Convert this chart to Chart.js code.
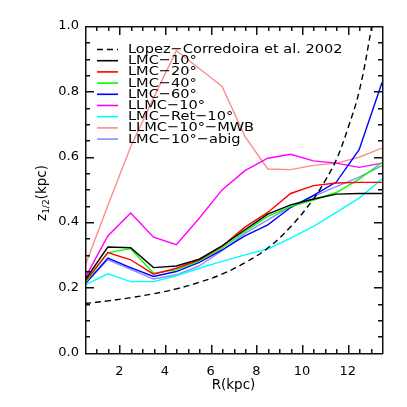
<!DOCTYPE html>
<html>
<head>
<meta charset="utf-8">
<script src="https://cdn.jsdelivr.net/npm/chart.js@4"></script>
<style>
html, body { margin: 0; padding: 0; background: #fff; }
</style>
</head>
<body>
<canvas id="zHalf" width="407" height="407"></canvas>
<script>
// radii of the simulation profiles (kpc)
var radius = [0.5, 1.5, 2.5, 3.5, 4.5, 5.5, 6.5, 7.5, 8.5, 9.5, 10.5, 11.5, 12.5, 13.5];

// scale heights z_1/2 (kpc)
var lmc10    = [0.222, 0.323, 0.321, 0.260, 0.265, 0.286, 0.327, 0.376, 0.424, 0.452, 0.470, 0.485, 0.487, 0.487];
var lmc20    = [0.217, 0.306, 0.284, 0.240, 0.258, 0.284, 0.325, 0.384, 0.429, 0.487, 0.511, 0.519, 0.521, 0.521];
var lmc40    = [0.212, 0.306, 0.318, 0.243, 0.253, 0.281, 0.320, 0.371, 0.417, 0.447, 0.467, 0.490, 0.531, 0.582];
var lmc60    = [0.210, 0.289, 0.260, 0.233, 0.248, 0.276, 0.314, 0.357, 0.391, 0.444, 0.481, 0.522, 0.621, 0.827];
var llmc10   = [0.228, 0.357, 0.427, 0.353, 0.330, 0.411, 0.498, 0.557, 0.595, 0.607, 0.587, 0.580, 0.567, 0.580];
var lmcRet10 = [0.207, 0.241, 0.217, 0.217, 0.235, 0.258, 0.279, 0.299, 0.317, 0.350, 0.386, 0.429, 0.473, 0.531];
var llmcMwb  = [0.265, 0.450, 0.630, 0.780, 0.925, 0.870, 0.815, 0.662, 0.562, 0.560, 0.573, 0.580, 0.598, 0.626];
var lmcAbig  = [0.210, 0.284, 0.255, 0.225, 0.238, 0.265, 0.312, 0.365, 0.406, 0.447, 0.478, 0.508, 0.537, 0.572];

// Lopez-Corredoira et al. 2002 curve
var lopezR = [0.5, 1.5, 2.5, 3.5, 4.5, 5.5, 6.5, 7.5, 8.5, 9.5, 10.5, 11.0, 11.5, 12.0, 12.5, 13.0, 13.5];
var lopezZ = [0.150, 0.158, 0.168, 0.180, 0.195, 0.215, 0.240, 0.275, 0.320, 0.385, 0.470, 0.525, 0.590, 0.685, 0.800, 0.980, 1.200];

var xTickLabels = [2, 4, 6, 8, 10, 12];
var yTickLabels = [0, 0.2, 0.4, 0.6, 0.8, 1.0];

// inward tick marks (minor and major)
var xMinorStep = 0.5, xMajorStep = 2;
var yMinorStep = 0.05, yMajorStep = 0.2;

var FONT = "'DejaVu Sans', sans-serif";

function pts(xs, ys) {
    var out = [];
    for (var i = 0; i < xs.length; i++) out.push({x: xs[i], y: ys[i]});
    return out;
}

function series(label, xs, ys, color, width, dash) {
    return {
        label: label,
        data: pts(xs, ys),
        borderColor: color,
        backgroundColor: color,
        borderWidth: width,
        borderDash: dash || [],
        pointRadius: 0,
        tension: dash ? 0.4 : 0,
        fill: false
    };
}

var datasets = [
    series("Lopez\u2212Corredoira et al. 2002", lopezR, lopezZ, "#000000", 1.4, [6, 4]),
    series("LMC\u221210\u00b0", radius, lmc10, "#000000", 1.4),
    series("LMC\u221220\u00b0", radius, lmc20, "#ff0000", 1.4),
    series("LMC\u221240\u00b0", radius, lmc40, "#00ff00", 1.4),
    series("LMC\u221260\u00b0", radius, lmc60, "#0000ff", 1.4),
    series("LLMC\u221210\u00b0", radius, llmc10, "#ff00ff", 1.4),
    series("LMC\u2212Ret\u221210\u00b0", radius, lmcRet10, "#00ffff", 1.4),
    series("LLMC\u221210\u00b0\u2212MWB", radius, llmcMwb, "#ff8c8c", 1.4),
    series("LMC\u221210\u00b0\u2212abig", radius, lmcAbig, "#8c8cff", 1.4)
];

// frame with inward ticks on all four sides
var frameTicks = {
    id: 'frameTicks',
    afterDraw: function(chart) {
        var c = chart.ctx, a = chart.chartArea;
        var xs = chart.scales.x, ys = chart.scales.y;
        var L = Math.round(a.left), R = Math.round(a.right);
        var T = Math.round(a.top), B = Math.round(a.bottom);
        c.save();
        c.fillStyle = '#111';
        c.fillRect(L, T, R - L + 1, 1.5);
        c.fillRect(L, B, R - L + 1, 1.5);
        c.fillRect(L, T, 1.5, B - T + 1);
        c.fillRect(R, T, 1.5, B - T + 1);
        var nx = Math.round((xs.max - xs.min) / xMinorStep);
        for (var i = 1; i < nx; i++) {
            var v = xs.min + i * xMinorStep;
            var px = Math.round(xs.getPixelForValue(v));
            var major = Math.abs(v / xMajorStep - Math.round(v / xMajorStep)) < 1e-6;
            var len = major ? 8 : 4;
            c.fillRect(px, B - len, 1.5, len);
            c.fillRect(px, T + 1, 1.5, len);
        }
        var ny = Math.round((ys.max - ys.min) / yMinorStep);
        for (var k = 1; k < ny; k++) {
            var val = ys.min + k * yMinorStep;
            var py = Math.round(ys.getPixelForValue(val));
            var majorY = Math.abs(val / yMajorStep - Math.round(val / yMajorStep)) < 1e-6;
            var l2 = majorY ? 8 : 4;
            c.fillRect(L + 1, py, l2, 1.5);
            c.fillRect(R - l2, py, l2, 1.5);
        }
        c.restore();
    }
};

// legend drawn inside the plot, upper left
var insideLegend = {
    id: 'insideLegend',
    afterDraw: function(chart) {
        var c = chart.ctx;
        chart.data.datasets.forEach(function(ds, i) {
            var y = 49.5 + i * 11.2;
            c.save();
            c.beginPath();
            c.strokeStyle = ds.borderColor;
            c.lineWidth = 1.6;
            c.setLineDash(ds.borderDash);
            c.moveTo(97, y); c.lineTo(118, y);
            c.stroke();
            c.setLineDash([]);
            c.font = '13px ' + FONT;
            c.fillStyle = '#000';
            c.textBaseline = 'alphabetic';
            c.translate(128, y + 3.5);
            c.scale(1.12, 1);
            c.fillText(ds.label, 0, 0);
            c.restore();
        });
    }
};

// y title with subscript
var yTitle = {
    id: 'yTitle',
    afterDraw: function(chart) {
        var c = chart.ctx;
        c.save();
        c.translate(46, 193);
        c.rotate(-Math.PI / 2);
        c.fillStyle = '#000';
        c.textBaseline = 'alphabetic';
        var big = '13.5px ' + FONT, small = '9px ' + FONT;
        c.font = big; var w1 = c.measureText('z').width;
        c.font = small; var w2 = c.measureText('1/2').width;
        c.font = big; var w3 = c.measureText('(kpc)').width;
        var x0 = -(w1 + w2 + w3) / 2;
        c.font = big; c.fillText('z', x0, 0);
        c.font = small; c.fillText('1/2', x0 + w1, 3);
        c.font = big; c.fillText('(kpc)', x0 + w1 + w2, 0);
        c.restore();
    }
};

var ctx = document.getElementById('zHalf').getContext('2d');
var zChart = new Chart(ctx, {
    type: 'line',
    data: { datasets: datasets },
    options: {
        responsive: false,
        animation: false,
        devicePixelRatio: 1,
        layout: { padding: { top: 26, right: 25, left: 0, bottom: 0 } },
        plugins: {
            legend: { display: false },
            tooltip: { enabled: false }
        },
        scales: {
            x: {
                type: 'linear',
                min: 0.5,
                max: 13.5,
                border: { display: false },
                grid: { display: false, drawTicks: false },
                afterBuildTicks: function(scale) {
                    scale.ticks = xTickLabels.map(function(v) { return {value: v}; });
                },
                afterFit: function(scale) { scale.height = 54.5; },
                ticks: {
                    padding: 11,
                    maxRotation: 0,
                    color: '#000',
                    font: { family: FONT, size: 13 },
                    callback: function(v) { return String(v); }
                },
                title: {
                    display: true,
                    text: 'R(kpc)',
                    color: '#000',
                    font: { family: FONT, size: 13.5 },
                    padding: { top: 0, bottom: 13 }
                }
            },
            y: {
                type: 'linear',
                min: 0,
                max: 1,
                border: { display: false },
                grid: { display: false, drawTicks: false },
                afterBuildTicks: function(scale) {
                    scale.ticks = yTickLabels.map(function(v) { return {value: v}; });
                },
                afterFit: function(scale) { scale.width = 85; },
                ticks: {
                    padding: 6,
                    color: '#000',
                    font: { family: FONT, size: 13 },
                    callback: function(v) { return Number(v).toFixed(1); }
                }
            }
        }
    },
    plugins: [frameTicks, insideLegend, yTitle]
});
</script>
</body>
</html>
